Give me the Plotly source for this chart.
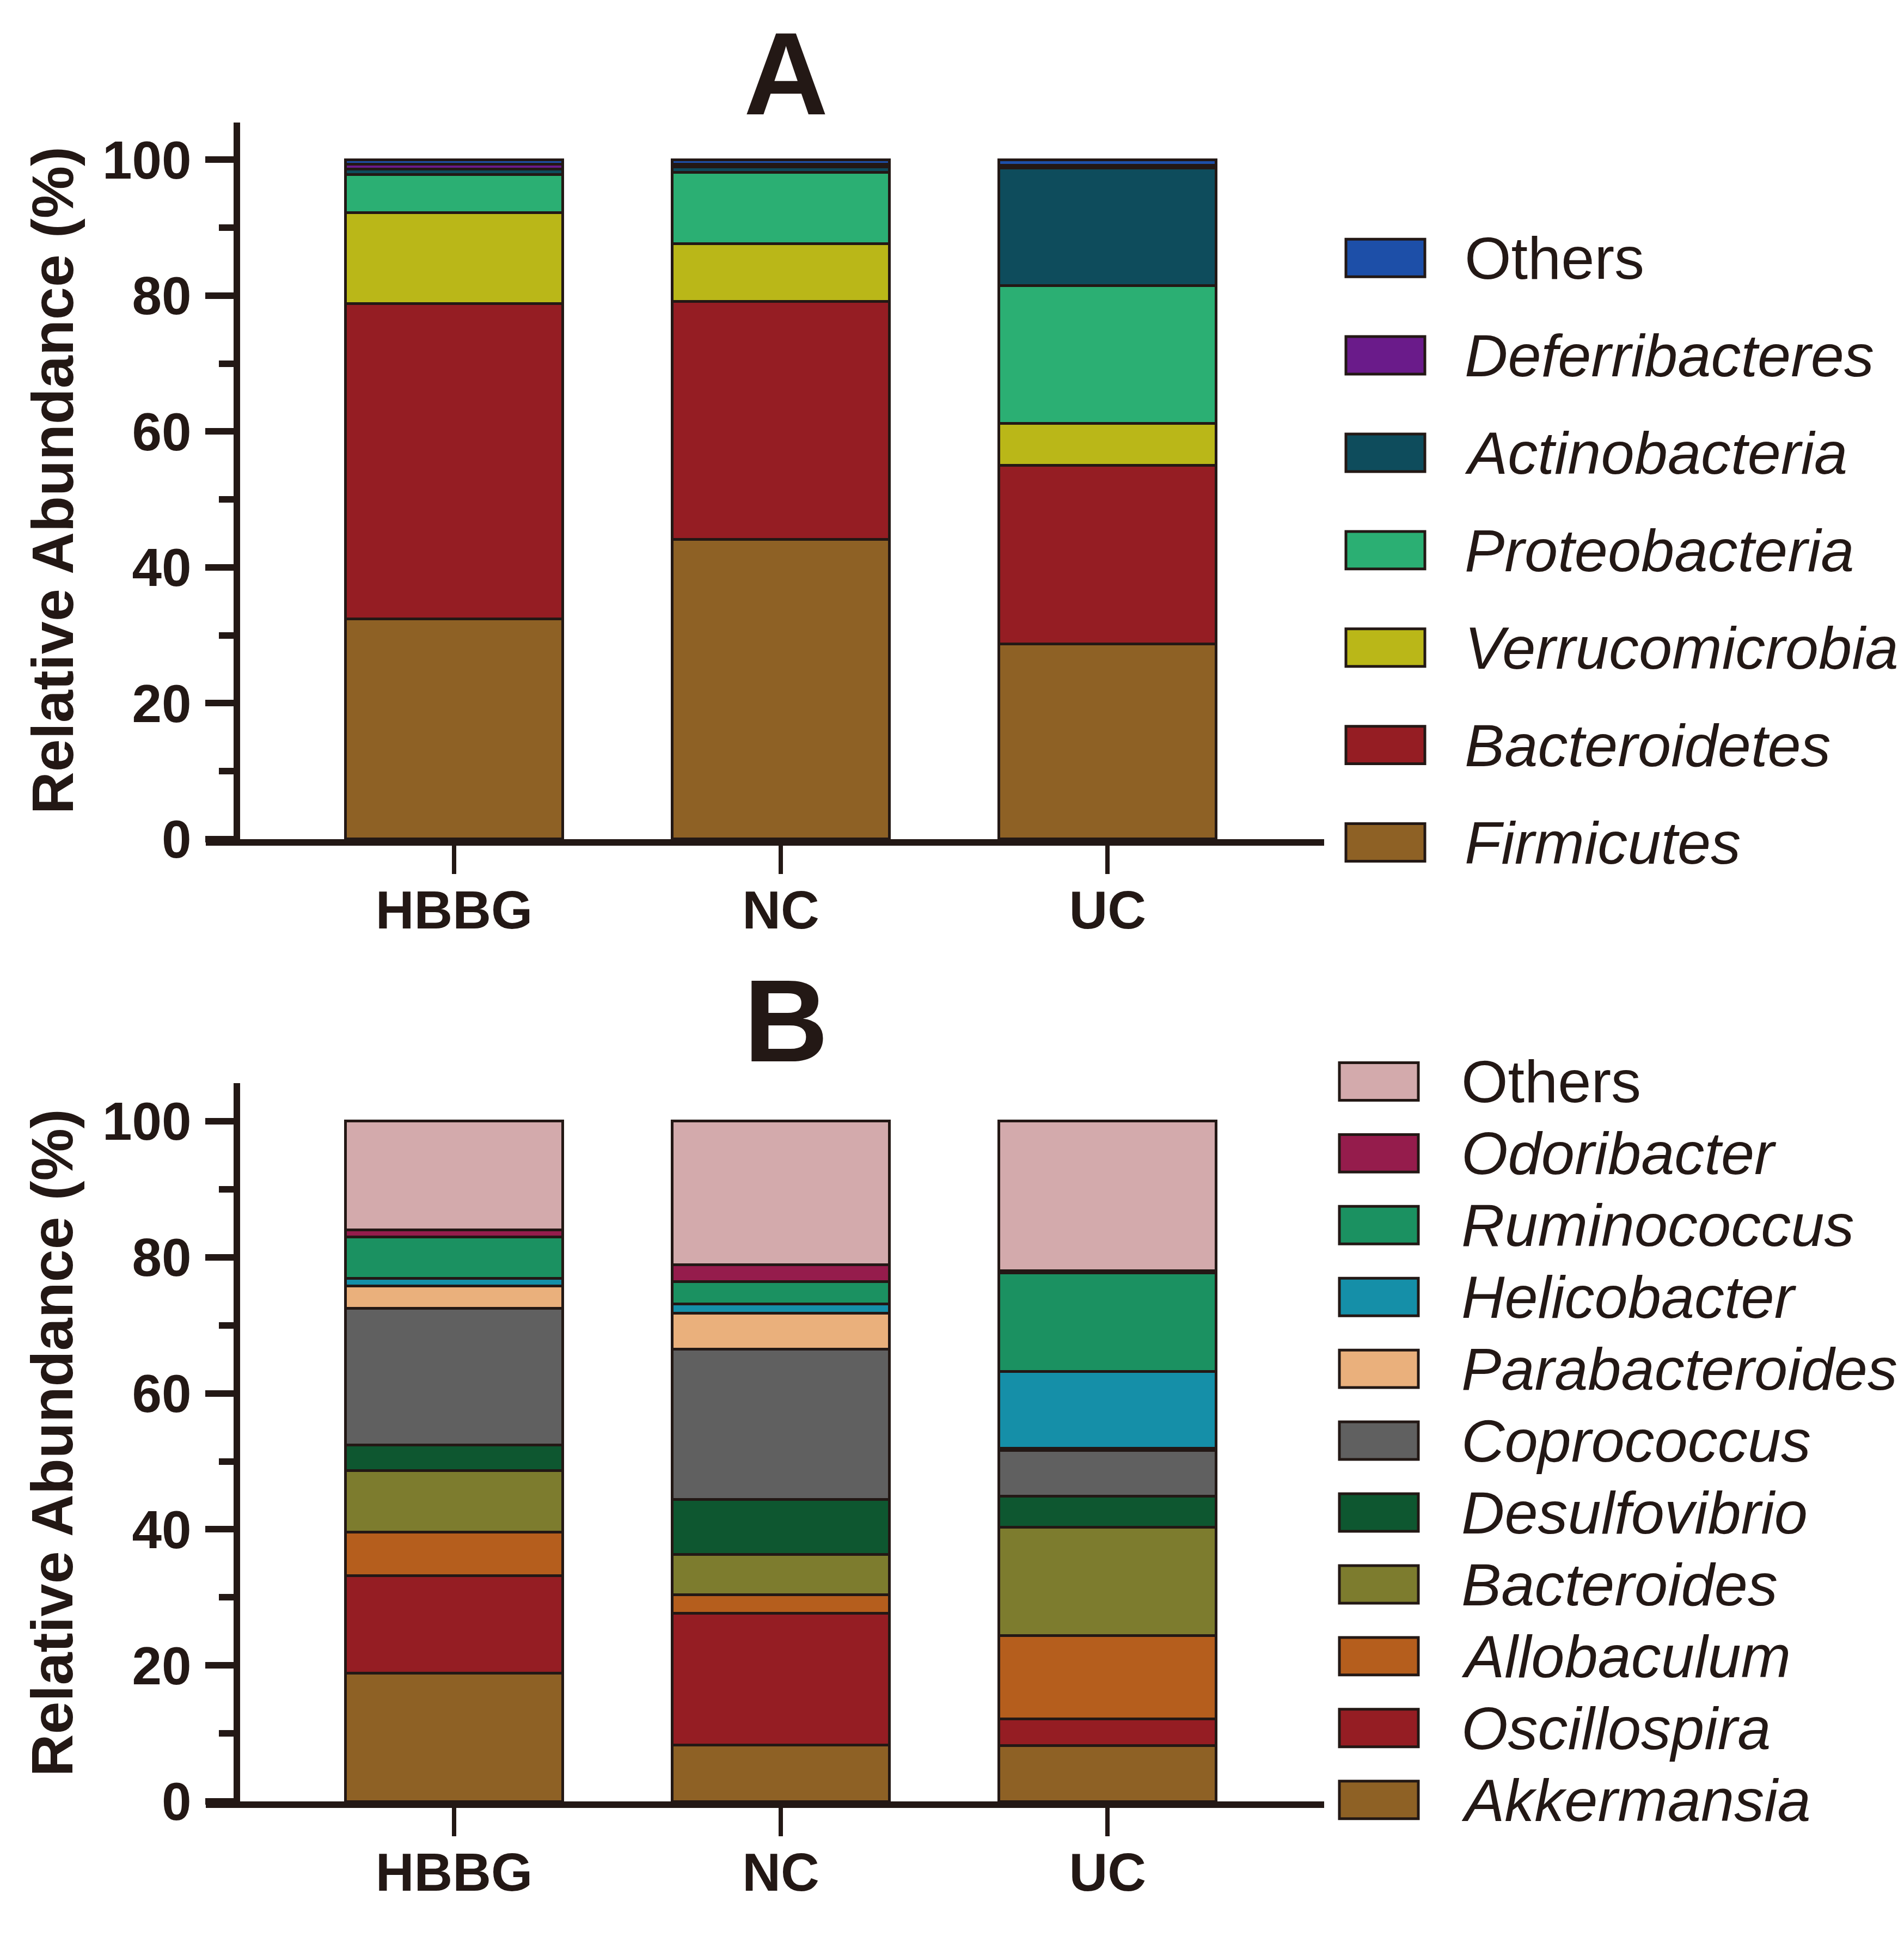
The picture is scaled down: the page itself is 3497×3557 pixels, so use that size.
import plotly.graph_objects as go

# groups shown on both panels
groups = ["HBBG", "NC", "UC"]

# panel A: phylum level, stacked from bottom to top
phyla = ["Firmicutes", "Bacteroidetes", "Verrucomicrobia", "Proteobacteria",
         "Actinobacteria", "Deferribacteres", "Others"]
firmicutes = [32.4, 44.1, 28.7]
bacteroidetes = [46.4, 35.0, 26.3]
verrucomicrobia = [13.4, 8.5, 6.2]
proteobacteria = [5.6, 10.5, 20.3]
actinobacteria = [0.8, 0.8, 17.3]
deferribacteres = [0.7, 0.4, 0.4]
others_a = [0.7, 0.7, 0.8]
phyla_colors = ["#8E6125", "#951D23", "#BAB718", "#2BAF73",
                "#0E4C5C", "#6A1B8A", "#1D4FA8"]

# panel B: genus level, stacked from bottom to top
genera = ["Akkermansia", "Oscillospira", "Allobaculum", "Bacteroides",
          "Desulfovibrio", "Coprococcus", "Parabacteroides", "Helicobacter",
          "Ruminococcus", "Odoribacter", "Others"]
akkermansia = [18.9, 8.3, 8.2]
oscillospira = [14.3, 19.4, 3.9]
allobaculum = [6.4, 2.7, 12.3]
bacteroides = [9.0, 5.9, 15.9]
desulfovibrio = [3.8, 8.1, 4.6]
coprococcus = [20.1, 22.1, 6.7]
parabacteroides = [3.3, 5.3, 0.3]
helicobacter = [1.1, 1.3, 11.3]
ruminococcus = [6.1, 3.3, 14.5]
odoribacter = [1.0, 2.5, 0.3]
others_b = [16.0, 21.1, 22.0]
genera_colors = ["#8E6125", "#951D23", "#B55E1D", "#7D7C2E", "#0E5730",
                 "#606060", "#EAB07C", "#158FA8", "#1B9161", "#951C4C",
                 "#D3AAAC"]

phyla_values = [firmicutes, bacteroidetes, verrucomicrobia, proteobacteria,
                actinobacteria, deferribacteres, others_a]
genera_values = [akkermansia, oscillospira, allobaculum, bacteroides,
                 desulfovibrio, coprococcus, parabacteroides, helicobacter,
                 ruminococcus, odoribacter, others_b]

W, H = 3497, 3557
INK = "#231815"
SANS = "Liberation Sans, Arial"


def px_x(p):
    return p / W


def px_y(p):
    return 1 - p / H


fig = go.Figure()

for name, vals, col in zip(phyla, phyla_values, phyla_colors):
    fig.add_trace(go.Bar(x=[0, 1, 2], y=vals, name=name, width=0.665,
                         marker=dict(color=col, line=dict(color=INK, width=5)),
                         xaxis="x", yaxis="y", showlegend=False))

for name, vals, col in zip(genera, genera_values, genera_colors):
    fig.add_trace(go.Bar(x=[0, 1, 2], y=vals, name=name, width=0.665,
                         marker=dict(color=col, line=dict(color=INK, width=5)),
                         xaxis="x2", yaxis="y2", showlegend=False))

# axes, GraphPad-like: x line sticks out left of the y axis
x_dom = [px_x(370), px_x(2424)]
x_rng = [-0.76, 2.663]
y_pos = px_x(427)

xcommon = dict(domain=x_dom, range=x_rng, tickvals=[0, 1, 2], ticktext=groups,
               showline=True, linewidth=12, linecolor=INK, ticks="outside",
               ticklen=52, tickwidth=8, tickcolor=INK, showgrid=False,
               zeroline=False, ticklabelstandoff=-18,
               tickfont=dict(family=SANS, size=98, color=INK, weight="bold"))
ycommon = dict(anchor="free", position=y_pos, range=[0, 105.5],
               tickvals=[0, 20, 40, 60, 80, 100], showline=True, linewidth=12,
               linecolor=INK, ticks="outside", ticklen=52, tickwidth=12,
               tickcolor=INK, showgrid=False, zeroline=False,
               ticklabelstandoff=6,
               minor=dict(dtick=10, ticklen=27, tickwidth=12, tickcolor=INK,
                          ticks="outside", showgrid=False),
               tickfont=dict(family=SANS, size=98, color=INK, weight="bold"))

fig.update_layout(
    width=W, height=H, margin=dict(l=0, r=0, t=0, b=0),
    paper_bgcolor="white", plot_bgcolor="white", barmode="stack",
    xaxis=dict(xcommon, anchor="y"),
    yaxis=dict(ycommon, domain=[px_y(1557), px_y(220)]),
    xaxis2=dict(xcommon, anchor="y2"),
    yaxis2=dict(ycommon, domain=[px_y(3352), px_y(2012)], range=[0, 105.6]),
)

annotations = []
shapes = []

# panel letters (placed by their baseline) and y titles
for letter, base in [("A", 208), ("B", 1974)]:
    annotations.append(dict(text="<b>%s</b>" % letter, x=px_x(1435),
                            y=px_y(base + 46), xref="paper", yref="paper",
                            showarrow=False, xanchor="center", yanchor="bottom",
                            font=dict(family=SANS, size=215, color=INK)))
for cy in [888, 2683]:
    annotations.append(dict(text="<b>Relative Abundance (%)</b>", textangle=-90,
                            x=px_x(88), y=px_y(cy), xref="paper", yref="paper",
                            showarrow=False, xanchor="center", yanchor="middle",
                            font=dict(family=SANS, size=108, color=INK)))


def add_legend(names, colors, box_x0, box_x1, text_x, first_cy, step):
    # legend is listed top to bottom in reverse stacking order
    for i, (name, col) in enumerate(zip(names[::-1], colors[::-1])):
        cy = first_cy + i * step
        shapes.append(dict(type="rect", xref="paper", yref="paper",
                           x0=px_x(box_x0), x1=px_x(box_x1),
                           y0=px_y(cy + 35), y1=px_y(cy - 35),
                           fillcolor=col, line=dict(color=INK, width=5)))
        label = name if name == "Others" else "<i>%s</i>" % name
        annotations.append(dict(text=label, x=px_x(text_x), y=px_y(cy),
                                xref="paper", yref="paper", showarrow=False,
                                xanchor="left", yanchor="middle",
                                font=dict(family=SANS, size=110, color=INK)))


add_legend(phyla, phyla_colors, 2464, 2609, 2680, 473, 181.7)
add_legend(genera, genera_colors, 2452, 2597, 2674, 2009, 134)

fig.update_layout(annotations=annotations, shapes=shapes)

fig.write_html("out.html")
